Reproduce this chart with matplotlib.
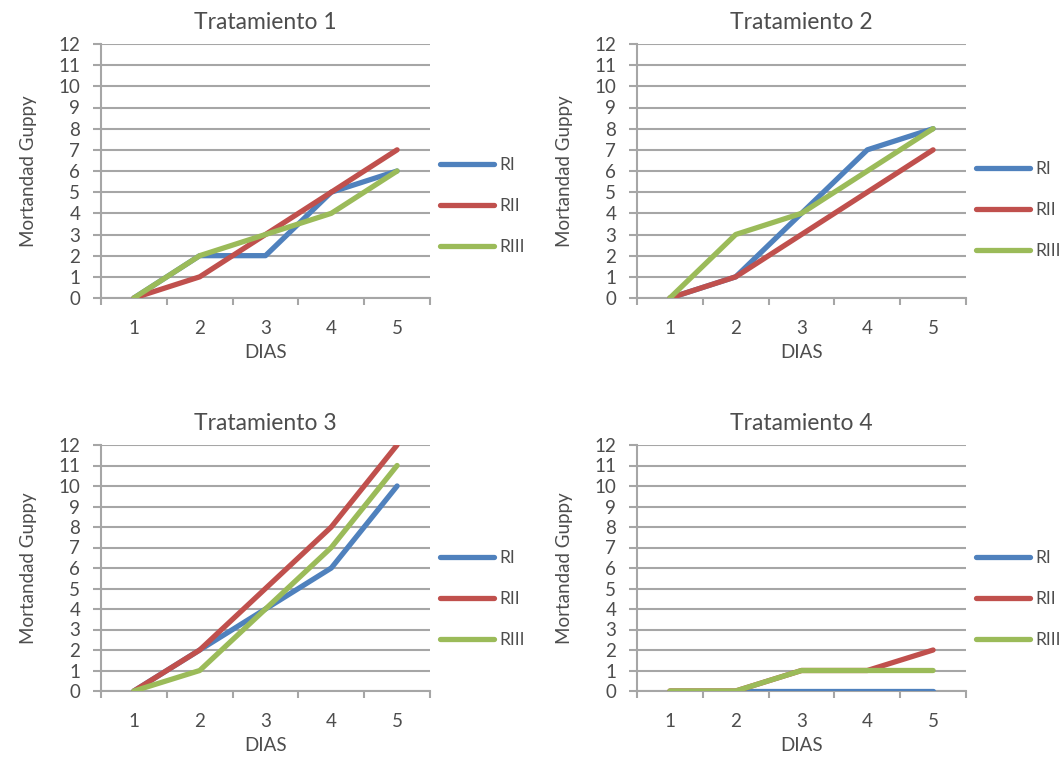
import numpy as np
import matplotlib
matplotlib.use("Agg")
import matplotlib.pyplot as plt

plt.rcParams['font.family'] = ['Lato', 'DejaVu Sans']

# data
dias = [1, 2, 3, 4, 5]
series_names = ["RI", "RII", "RIII"]
titles = ["Tratamiento 1", "Tratamiento 2", "Tratamiento 3", "Tratamiento 4"]

t1_ri = [0, 2, 2, 5, 6]
t1_rii = [0, 1, 3, 5, 7]
t1_riii = [0, 2, 3, 4, 6]

t2_ri = [0, 1, 4, 7, 8]
t2_rii = [0, 1, 3, 5, 7]
t2_riii = [0, 3, 4, 6, 8]

t3_ri = [0, 2, 4, 6, 10]
t3_rii = [0, 2, 5, 8, 12]
t3_riii = [0, 1, 4, 7, 11]

t4_ri = [0, 0, 0, 0, 0]
t4_rii = [0, 0, 1, 1, 2]
t4_riii = [0, 0, 1, 1, 1]

all_data = [
    [t1_ri, t1_rii, t1_riii],
    [t2_ri, t2_rii, t2_riii],
    [t3_ri, t3_rii, t3_riii],
    [t4_ri, t4_rii, t4_riii],
]

colors = ["#4F81BD", "#C0504D", "#9BBB59"]
grid_c = "#A6A6A6"
text_c = "#4D4D4D"

fig = plt.figure(figsize=(10.62, 7.58), dpi=100)

W, H = 1062.0, 758.0
# pixel boxes of the plot areas (left, top, right, bottom)
boxes = [(101, 44, 430, 298), (637, 44, 966, 298),
         (101, 445, 430, 691), (637, 445, 966, 691)]
legend_y = [0.362, 0.346, 0.374, 0.374]
fs = 13.5

for i, (data, title) in enumerate(zip(all_data, titles)):
    l, t, r, b = boxes[i]
    ax = fig.add_axes([l / W, 1 - b / H, (r - l) / W, (b - t) / H])
    for vals, name, c in zip(data, series_names, colors):
        ax.plot(dias, vals, color=c, lw=3.8, label=name,
                solid_capstyle='round', solid_joinstyle='round', zorder=3)

    ax.set_xlim(0.5, 5.5)
    ax.set_ylim(0, 12)
    ax.set_yticks(range(0, 13))
    ax.yaxis.grid(True, color=grid_c, lw=1.5)
    ax.set_axisbelow(True)

    # category boundaries as major ticks, labels on minor ticks
    ax.set_xticks(np.arange(0.5, 6, 1))
    ax.set_xticklabels([])
    ax.set_xticks(dias, minor=True)
    ax.set_xticklabels([str(d) for d in dias], minor=True)
    ax.tick_params(axis='x', which='major', length=5, color=grid_c, width=1.5)
    ax.tick_params(axis='x', which='minor', length=0, pad=16,
                   labelsize=fs, labelcolor=text_c)
    ax.tick_params(axis='y', length=6, color=grid_c, width=1.5,
                   labelsize=fs, labelcolor=text_c, pad=9)

    for s in ['top', 'right']:
        ax.spines[s].set_visible(False)
    for s in ['left', 'bottom']:
        ax.spines[s].set_color(grid_c)
        ax.spines[s].set_linewidth(1.5)

    ax.set_title(title, fontsize=16.5, color=text_c, pad=10.5)
    ax.set_xlabel("DIAS", fontsize=fs, color=text_c, labelpad=5)
    ax.set_ylabel("Mortandad Guppy", fontsize=fs, color=text_c, labelpad=15)

    leg = ax.legend(loc='center left', bbox_to_anchor=(1.01, legend_y[i]),
                    frameon=False, fontsize=12.5, labelspacing=1.45,
                    handlelength=3.1, handletextpad=0.3, borderaxespad=0)
    for txt in leg.get_texts():
        txt.set_color(text_c)

fig.savefig("out.png", dpi=100)
